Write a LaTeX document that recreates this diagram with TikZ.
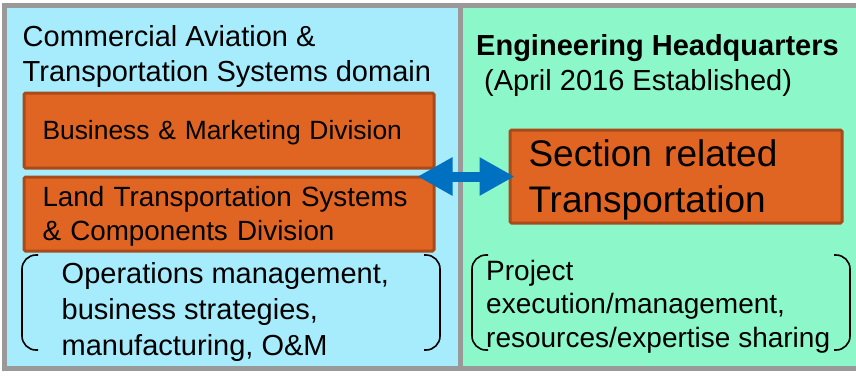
\documentclass[tikz,border=0pt]{standalone}
\usepackage{fontspec}
\setmainfont{Liberation Sans}
\usetikzlibrary{arrows.meta}

\definecolor{domainblue}{HTML}{A6ECFC}
\definecolor{hqgreen}{HTML}{8CF8CA}
\definecolor{framegray}{HTML}{999999}
\definecolor{divorange}{HTML}{E06422}
\definecolor{divbrown}{HTML}{A84A1A}
\definecolor{linkblue}{HTML}{0070C0}

\begin{document}
\begin{tikzpicture}[x=1pt, y=-1pt,
    divbox/.style={draw=divbrown, fill=divorange, line width=3pt,
        rounded corners=1.5pt, anchor=north west, align=left,
        inner xsep=18.5pt, inner ysep=2pt},
    plaintext/.style={anchor=north west, align=left, inner sep=0pt},
    bracket/.style={draw=black, line width=1.6pt, rounded corners=14pt},
    biarrow/.style={draw=linkblue, line width=10pt,
        {Triangle[length=35pt,width=36pt]}-{Triangle[length=35pt,width=36pt]}}]
    \def\bigfont{\fontsize{29}{35}\selectfont}

    \useasboundingbox (0,0) rectangle (856,376);

    % Panels
    \fill[domainblue] (2,3) rectangle (460,371);
    \fill[hqgreen] (460,3) rectangle (856,371);
    \draw[framegray, line width=5pt]
        (856,5.5) -- (4.5,5.5) -- (4.5,368.5) -- (856,368.5);
    \draw[framegray, line width=5pt]
        (460.5,5.5) -- (460.5,368.5);

    % Left panel
    \node[plaintext, font=\bigfont] (domain) at (22.5,25)
        {Commercial Aviation \&\\Transportation Systems domain};

    \node[divbox, font=\fontsize{26.4}{34}\selectfont, text width=373pt,
        minimum width=410pt, minimum height=75pt, text height=23.5pt] (biz) at (22.5,91.5)
        {Business \& Marketing Division};
    \node[divbox, font=\fontsize{27.8}{34}\selectfont, text width=373pt,
        minimum width=410pt, minimum height=74pt, text height=25pt] (land) at (22.5,175.5)
        {Land Transportation Systems\\\& Components Division};

    \node[plaintext, font=\fontsize{29}{36}\selectfont] (ops) at (61.5,262)
        {Operations management,\\business strategies,\\manufacturing, O\&M};
    \draw[bracket] (38,255) -- (22,255) -- (22,350) -- (38,350);
    \draw[bracket] (424,255) -- (440,255) -- (440,350) -- (424,350);

    % Right panel
    \node[plaintext, font=\bigfont] (hq) at (476,34)
        {\textbf{Engineering Headquarters}\\\hspace*{8pt}(April 2016 Established)};

    \node[divbox, font=\fontsize{37}{46}\selectfont, text width=295pt,
        minimum width=332pt, minimum height=93pt, text height=34.5pt] (sect) at (508.5,128.5)
        {Section related\\Transportation};

    \node[plaintext, font=\fontsize{28}{33.5}\selectfont] (proj) at (486,260)
        {Project\\execution/management,\\resources/expertise sharing};
    \draw[bracket] (488,255) -- (472,255) -- (472,350) -- (488,350);
    \draw[bracket] (834,255) -- (850,255) -- (850,350) -- (834,350);

    % Link
    \coordinate[xshift=-18pt] (linkL) at (land.east |- sect.west);
    \coordinate[xshift=6pt] (linkR) at (sect.west);
    \draw[biarrow] (linkL) -- (linkR);
\end{tikzpicture}
\end{document}
